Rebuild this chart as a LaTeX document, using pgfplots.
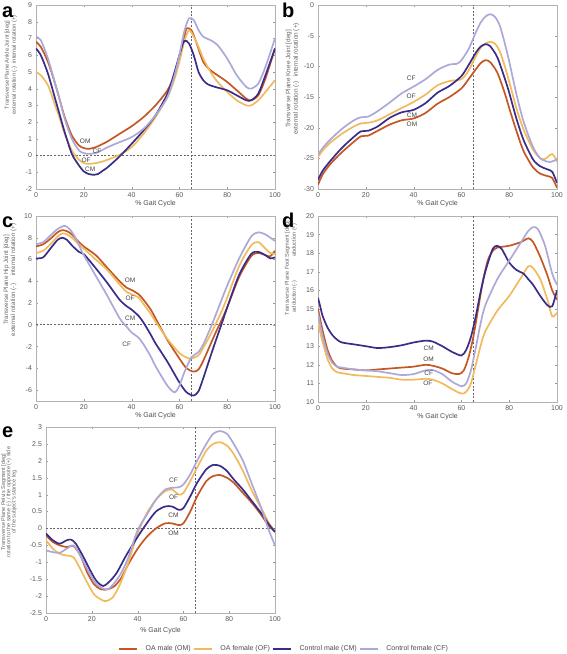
\documentclass[border=0pt]{standalone}
\usepackage{pgfplots}
\pgfplotsset{compat=1.18}
\usepackage{fontspec}
\setmainfont{Liberation Sans}
\definecolor{cOM}{RGB}{196,88,36}
\definecolor{cOF}{RGB}{241,186,92}
\definecolor{cCM}{RGB}{58,45,138}
\definecolor{cCF}{RGB}{172,168,216}
\pgfplotsset{
  panel/.style={
    scale only axis, xmin=0, xmax=100, xtick={0,20,40,60,80,100},
    tick align=inside, major tick length=2.2pt,
    axis line style={black!30}, tick style={black!40},
    tick label style={font=\fontsize{7}{7}\selectfont, text=black!65},
    /pgf/number format/assume math mode=true,
    xticklabel style={yshift=-0.5pt},
    yticklabel style={xshift=-0.5pt},
    xlabel={\% Gait Cycle},
    xlabel style={font=\fontsize{7}{7}\selectfont, text=black!70, at={(axis description cs:0.5,-0.079)}, anchor=center},
  },
  refl/.style={forget plot, black!60, line width=0.7pt, dash pattern=on 2pt off 1.6pt},
  om/.style={cOM, line width=1.7pt, smooth, tension=0.45},
  of/.style={cOF, line width=1.7pt, smooth, tension=0.45},
  cm/.style={cCM, line width=1.7pt, smooth, tension=0.45},
  cf/.style={cCF, line width=1.7pt, smooth, tension=0.45},
}
\tikzset{
  lab/.style={font=\fontsize{6.5}{6.5}\selectfont, text=black!75, inner sep=0.5pt},
  ylab/.style={rotate=90, align=center, text=black!60},
  plab/.style={font=\fontsize{20}{20}\selectfont\bfseries, anchor=base west, inner sep=0pt},
}
\begin{document}
\begin{tikzpicture}
\useasboundingbox (0pt,0pt) rectangle (567pt,654pt);

% ---------------- panel a ----------------
\begin{axis}[panel, at={(36pt,465pt)}, anchor=south west, width=239pt, height=184pt,
  ymin=-2, ymax=9, ytick={-2,-1,0,1,2,3,4,5,6,7,8,9}]
\addplot[refl] coordinates {(65,-2) (65,9)};
\addplot[refl] coordinates {(0,0) (100,0)};
\addplot[om] coordinates {(0,6.8)(2,6.5)(5,5.6)(8,4.3)(10,3.3)(12,2.3)(15,1.2)(18,0.6)(20,0.45)(22,0.4)(25,0.5)(28,0.7)(30,0.85)(35,1.3)(40,1.75)(45,2.3)(50,3.0)(55,3.9)(58,4.8)(60,5.8)(62,7.0)(63,7.6)(65,7.5)(67,6.8)(70,5.6)(73,5.1)(77,4.7)(80,4.4)(84,3.9)(88,3.4)(90,3.3)(93,3.6)(96,4.6)(100,6.4)};
\addplot[of] coordinates {(0,5.0)(2,4.8)(5,4.2)(8,3.0)(10,2.2)(12,1.3)(15,0.3)(18,-0.25)(20,-0.45)(22,-0.5)(25,-0.45)(28,-0.35)(30,-0.25)(35,0.05)(40,0.5)(45,1.3)(50,2.3)(55,3.5)(58,4.6)(60,5.6)(62,6.8)(64,7.5)(66,7.1)(68,6.5)(70,5.8)(73,5.0)(76,4.4)(80,3.8)(84,3.3)(88,3.0)(90,3.0)(93,3.3)(96,3.8)(100,4.5)};
\addplot[cm] coordinates {(0,6.4)(2,6.0)(5,4.9)(8,3.4)(10,2.4)(12,1.4)(15,0.1)(18,-0.6)(20,-0.95)(22,-1.1)(24,-1.15)(26,-1.1)(28,-0.9)(30,-0.7)(35,-0.05)(40,0.7)(45,1.5)(50,2.4)(55,3.7)(58,5.0)(60,6.0)(62,6.85)(64,6.7)(66,6.0)(68,5.0)(70,4.5)(72,4.25)(75,4.1)(80,3.9)(84,3.6)(88,3.3)(90,3.3)(93,3.7)(96,4.8)(100,6.4)};
\addplot[cf] coordinates {(0,7.1)(2,6.9)(5,5.8)(8,4.3)(10,3.3)(12,2.2)(15,1.0)(18,0.3)(20,0.15)(22,0.1)(25,0.15)(28,0.35)(30,0.5)(35,0.8)(40,1.1)(45,1.6)(50,2.4)(55,3.5)(58,4.8)(60,6.0)(62,7.4)(64,8.2)(66,8.1)(68,7.5)(70,7.1)(73,6.9)(76,6.6)(80,5.8)(84,4.8)(88,4.1)(90,4.0)(93,4.3)(96,5.3)(100,7.0)};
\node[lab] at (axis cs:20.6,0.85) {OM};
\node[lab] at (axis cs:25.5,0.25) {CF};
\node[lab] at (axis cs:21,-0.3) {OF};
\node[lab] at (axis cs:22.7,-0.85) {CM};
\end{axis}

% ---------------- panel b ----------------
\begin{axis}[panel, at={(318pt,465pt)}, anchor=south west, width=239pt, height=184pt,
  ymin=-30, ymax=0, ytick={-30,-25,-20,-15,-10,-5,0}]
\addplot[refl] coordinates {(65,-30) (65,0)};
\addplot[om] coordinates {(0,-29.3)(2,-27.6)(5,-26)(10,-24)(15,-22.3)(18,-21.4)(21,-21.3)(25,-20.5)(30,-19.5)(35,-18.8)(40,-18.5)(45,-17.6)(50,-16.1)(55,-15)(60,-13.6)(63,-12.1)(66,-10.5)(68,-9.5)(70,-9.0)(72,-9.3)(75,-11)(78,-14.2)(80,-16.8)(83,-20.5)(86,-23.8)(90,-26.5)(93,-27.5)(96,-27.9)(98,-28.2)(100,-29.8)};
\addplot[of] coordinates {(0,-24.8)(2,-23.7)(5,-22.5)(10,-21)(15,-19.8)(18,-19.3)(21,-19.2)(25,-18.8)(30,-17.8)(35,-16.8)(40,-15.8)(45,-14.6)(50,-13.1)(55,-12.4)(60,-12.1)(63,-10.7)(66,-8.4)(68,-7)(70,-6.3)(72,-6.0)(74,-6.3)(76,-7.5)(78,-9.8)(80,-12.5)(83,-16.8)(86,-20.3)(90,-23.6)(93,-25)(95,-25.1)(98,-24.3)(100,-25.5)};
\addplot[cm] coordinates {(0,-28.5)(2,-27)(5,-25.5)(10,-23.3)(15,-21.5)(18,-20.6)(21,-20.5)(25,-19.8)(30,-18.4)(35,-17.5)(40,-17.1)(45,-16)(50,-14.3)(55,-13.2)(60,-11.6)(63,-9.8)(66,-7.8)(68,-6.8)(70,-6.4)(72,-6.7)(75,-8.5)(78,-11.8)(80,-14.3)(83,-18.5)(86,-22)(90,-25.2)(93,-26.3)(96,-26.8)(98,-27.2)(100,-29)};
\addplot[cf] coordinates {(0,-24.4)(2,-23.3)(5,-22)(10,-20.2)(15,-18.8)(18,-18.3)(21,-18.2)(25,-17.3)(30,-15.9)(35,-14.4)(40,-13.3)(45,-12.1)(50,-10.6)(55,-9.7)(58,-9.6)(60,-9.0)(63,-7.2)(66,-4.5)(68,-2.9)(70,-1.9)(72,-1.5)(74,-1.9)(76,-3.3)(78,-6)(80,-9.2)(83,-14.5)(86,-19)(90,-23.2)(93,-25)(95,-25.4)(97,-25.6)(100,-25.2)};
\node[lab] at (axis cs:39,-12) {CF};
\node[lab] at (axis cs:39,-14.9) {OF};
\node[lab] at (axis cs:39.3,-17.9) {CM};
\node[lab] at (axis cs:39.3,-19.5) {OM};
\end{axis}

% ---------------- panel c ----------------
\begin{axis}[panel, at={(36pt,253pt)}, anchor=south west, width=239pt, height=185pt,
  ymin=-7, ymax=10, ytick={-6,-4,-2,0,2,4,6,8,10}]
\addplot[refl] coordinates {(65,-7) (65,10)};
\addplot[refl] coordinates {(0,0) (100,0)};
\addplot[om] coordinates {(0,7.2)(3,7.4)(6,7.9)(9,8.5)(11,8.7)(13,8.6)(15,8.3)(18,7.6)(20,7.2)(25,6.4)(30,5.2)(35,4.0)(38,3.4)(40,3.2)(43,2.8)(45,2.3)(48,1.4)(50,0.6)(55,-1.4)(60,-3.1)(63,-4.0)(66,-4.3)(68,-4.1)(70,-3.3)(73,-1.8)(75,-0.8)(78,0.6)(80,1.6)(85,4.4)(90,6.3)(93,6.6)(96,6.4)(98,6.3)(100,6.8)};
\addplot[of] coordinates {(0,6.6)(3,6.8)(6,7.4)(9,8.1)(11,8.4)(13,8.3)(15,8.0)(18,7.4)(20,7.0)(25,6.0)(30,5.0)(35,3.7)(38,3.0)(40,2.8)(43,2.5)(45,1.9)(48,1.0)(50,0.3)(55,-1.3)(60,-2.6)(63,-3.0)(65,-3.1)(68,-2.8)(70,-2.1)(73,-0.9)(75,0.0)(78,1.4)(80,2.5)(85,5.4)(90,7.3)(93,7.6)(96,7.0)(98,6.6)(100,6.5)};
\addplot[cm] coordinates {(0,6.1)(3,6.2)(6,7.0)(9,7.8)(11,8.0)(13,7.8)(15,7.3)(18,6.7)(20,6.5)(25,5.2)(30,3.8)(35,2.3)(38,1.7)(40,1.4)(43,0.8)(45,0.2)(48,-0.9)(50,-1.7)(55,-3.4)(60,-5.3)(63,-6.2)(66,-6.5)(68,-6.1)(70,-4.9)(73,-2.9)(75,-1.6)(78,0.3)(80,1.6)(85,4.6)(90,6.5)(93,6.7)(96,6.4)(98,6.1)(100,6.2)};
\addplot[cf] coordinates {(0,7.4)(3,7.6)(6,8.2)(9,8.8)(12,9.1)(14,8.8)(16,8.2)(18,7.3)(20,6.4)(25,4.5)(30,2.6)(35,0.6)(38,-0.2)(40,-0.7)(43,-1.2)(45,-1.8)(48,-2.9)(50,-3.8)(55,-5.6)(58,-6.2)(60,-5.6)(62,-4.4)(65,-3.0)(68,-2.5)(70,-1.8)(73,-0.3)(75,0.8)(78,2.5)(80,3.6)(85,6.1)(90,8.1)(93,8.5)(96,8.3)(100,7.7)};
\node[lab] at (axis cs:39.4,4.05) {OM};
\node[lab] at (axis cs:39.4,2.4) {OF};
\node[lab] at (axis cs:39.4,0.6) {CM};
\node[lab] at (axis cs:38,-1.8) {CF};
\end{axis}

% ---------------- panel d ----------------
\begin{axis}[panel, at={(318pt,252pt)}, anchor=south west, width=239pt, height=186pt,
  ymin=10, ymax=20, ytick={10,11,12,13,14,15,16,17,18,19,20}]
\addplot[refl] coordinates {(65,10) (65,20)};
\addplot[om] coordinates {(0,15.0)(1,14.4)(2,13.8)(4,12.8)(6,12.2)(8,11.9)(10,11.8)(15,11.75)(20,11.7)(25,11.75)(30,11.8)(35,11.85)(40,11.9)(45,12.0)(48,11.95)(52,11.8)(56,11.55)(59,11.5)(61,11.7)(63,12.4)(65,13.5)(67,15.0)(69,16.5)(71,17.6)(73,18.1)(75,18.3)(80,18.4)(85,18.6)(88,18.8)(90,18.6)(93,17.8)(96,16.8)(98,16.0)(100,15.5)};
\addplot[of] coordinates {(0,14.3)(1,13.7)(2,13.2)(4,12.3)(6,11.8)(8,11.6)(10,11.55)(15,11.45)(20,11.4)(25,11.35)(30,11.3)(35,11.2)(40,11.2)(45,11.25)(48,11.2)(52,11.0)(56,10.7)(60,10.45)(62,10.55)(64,11.0)(66,12.0)(68,13.0)(70,13.8)(75,14.9)(80,15.7)(85,16.7)(88,17.3)(90,17.2)(93,16.6)(96,15.5)(98,14.6)(100,14.8)};
\addplot[cm] coordinates {(0,15.6)(1,15.1)(2,14.6)(4,14.0)(6,13.6)(8,13.35)(10,13.2)(15,13.1)(20,13.0)(25,12.9)(30,12.95)(35,13.05)(40,13.2)(45,13.3)(48,13.25)(52,13.0)(56,12.7)(60,12.5)(62,12.8)(64,13.5)(66,14.6)(68,15.9)(70,17.0)(73,18.2)(75,18.4)(77,18.2)(80,17.5)(83,17.1)(86,16.9)(88,16.6)(90,16.3)(93,15.7)(96,15.2)(98,15.15)(100,16.0)};
\addplot[cf] coordinates {(0,14.8)(1,14.1)(2,13.5)(4,12.6)(6,12.1)(8,11.9)(10,11.85)(15,11.75)(20,11.7)(25,11.65)(30,11.55)(35,11.45)(40,11.5)(45,11.7)(48,11.72)(52,11.5)(56,11.1)(60,10.85)(62,11.0)(64,11.7)(66,12.9)(68,14.2)(70,15.2)(75,16.6)(80,17.6)(85,18.6)(88,19.2)(90,19.4)(92,19.3)(95,18.4)(98,16.9)(100,16.3)};
\node[lab] at (axis cs:46.3,12.9) {CM};
\node[lab] at (axis cs:46.3,12.3) {OM};
\node[lab] at (axis cs:46.3,11.55) {CF};
\node[lab] at (axis cs:46,11.0) {OF};
\end{axis}

% ---------------- panel e ----------------
\begin{axis}[panel, at={(46pt,41pt)}, anchor=south west, width=229pt, height=186pt,
  ymin=-2.5, ymax=3, ytick={-2.5,-2,-1.5,-1,-0.5,0,0.5,1,1.5,2,2.5,3},
  xlabel style={at={(axis description cs:0.5,-0.094)}},
  legend style={at={(axis description cs:1.039,-0.1935)}, anchor=center, draw=none,
    font=\fontsize{7}{7}\selectfont, text=black!70, legend columns=4,
    /tikz/every odd column/.append style={column sep=6pt}},
  legend image code/.code={\draw[#1, line width=1.7pt] (0pt,0pt) -- (18pt,0pt);}]
\addplot[refl] coordinates {(65,-2.5) (65,3)};
\addplot[refl] coordinates {(0,0) (100,0)};
\addplot[om] coordinates {(0,-0.2)(3,-0.4)(6,-0.5)(9,-0.55)(12,-0.52)(15,-0.8)(18,-1.3)(21,-1.65)(24,-1.8)(27,-1.8)(30,-1.7)(33,-1.45)(36,-1.05)(40,-0.6)(44,-0.25)(48,0.0)(52,0.15)(55,0.15)(58,0.1)(60,0.15)(63,0.5)(66,0.95)(70,1.4)(73,1.55)(76,1.58)(79,1.5)(82,1.35)(86,1.05)(90,0.75)(94,0.4)(97,0.1)(100,-0.1)};
\addplot[of] coordinates {(0,-0.35)(3,-0.6)(6,-0.75)(9,-0.8)(12,-0.85)(15,-1.2)(18,-1.6)(21,-1.95)(24,-2.1)(26,-2.15)(29,-2.05)(32,-1.7)(36,-1.0)(40,-0.15)(44,0.45)(48,0.85)(52,1.1)(55,1.15)(58,1.0)(60,1.05)(63,1.4)(66,1.8)(70,2.3)(73,2.5)(76,2.55)(79,2.45)(82,2.2)(86,1.7)(90,1.1)(94,0.6)(97,0.2)(100,-0.1)};
\addplot[cm] coordinates {(0,-0.15)(3,-0.35)(6,-0.45)(9,-0.35)(11,-0.33)(13,-0.45)(16,-0.8)(19,-1.2)(22,-1.55)(25,-1.7)(28,-1.55)(31,-1.3)(35,-0.8)(40,-0.25)(44,0.15)(48,0.5)(52,0.65)(55,0.65)(58,0.55)(60,0.6)(63,0.95)(66,1.35)(70,1.75)(73,1.88)(76,1.85)(79,1.7)(82,1.45)(86,1.15)(90,0.8)(94,0.45)(97,0.15)(100,-0.1)};
\addplot[cf] coordinates {(0,-0.65)(3,-0.7)(6,-0.72)(9,-0.6)(12,-0.5)(15,-0.8)(18,-1.2)(21,-1.55)(24,-1.75)(27,-1.8)(30,-1.6)(33,-1.3)(36,-0.85)(40,-0.05)(44,0.4)(48,0.85)(52,1.15)(55,1.2)(58,1.22)(60,1.3)(63,1.6)(66,2.0)(70,2.5)(73,2.8)(76,2.88)(79,2.8)(82,2.5)(86,2.0)(90,1.3)(94,0.6)(97,0.0)(100,-0.5)};
\legend{OA male (OM), OA female (OF), Control male (CM), Control female (CF)}
\node[lab] at (axis cs:55.7,1.42) {CF};
\node[lab] at (axis cs:55.7,0.92) {OF};
\node[lab] at (axis cs:55.7,0.4) {CM};
\node[lab] at (axis cs:55.7,-0.15) {OM};
\end{axis}

% ---------------- y labels ----------------
\node[ylab, font=\fontsize{5.7}{7}\selectfont] at (11pt,589pt) {Transverse Plane Ankle Joint [deg]\\external rotation (-)\hspace{3pt}internal rotation (+)};
\node[ylab, font=\fontsize{6.4}{7.5}\selectfont] at (292.5pt,575pt) {Transverse Plane Knee Joint [deg]\\external rotation (-)\hspace{4pt}internal rotation (+)};
\node[ylab, font=\fontsize{6.2}{7.2}\selectfont] at (10pt,374pt) {Transverse Plane Hip Joint [deg]\\external rotation (-)\hspace{8pt}internal rotation (+)};
\node[ylab, font=\fontsize{5.6}{7}\selectfont] at (291pt,386pt) {Transverse Plane Foot Segment [deg]\\adduction (-)\hspace{24pt}abduction (+)};
\node[ylab, font=\fontsize{5.5}{5.2}\selectfont] at (9pt,152pt) {Transverse Plane Pelvis Segment [deg]\\rotation to the same (-) / the opposite (+) side\\of the subject's stance leg};

% ---------------- panel letters ----------------
\node[plab] at (2pt,636pt) {a};
\node[plab] at (282pt,636pt) {b};
\node[plab] at (2pt,426pt) {c};
\node[plab] at (282pt,426pt) {d};
\node[plab] at (2pt,216pt) {e};
\end{tikzpicture}
\end{document}
